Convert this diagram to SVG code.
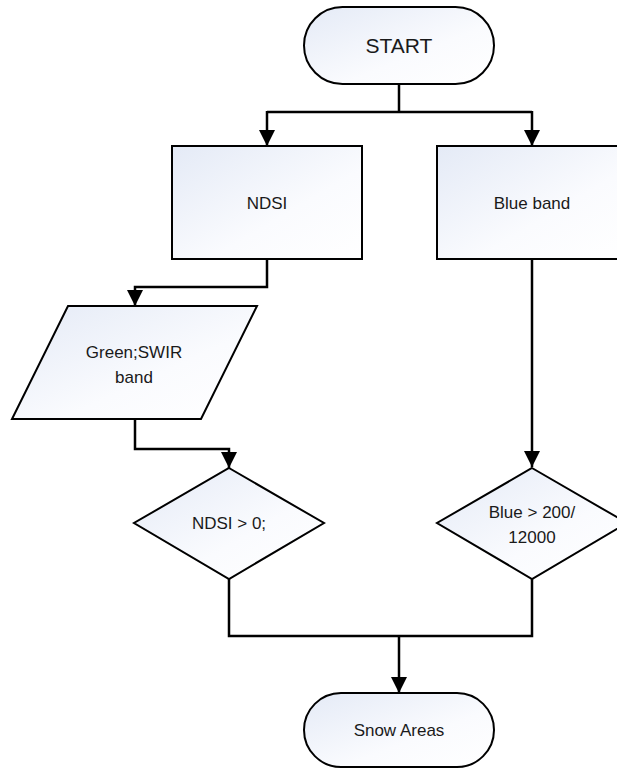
<svg xmlns="http://www.w3.org/2000/svg" width="617" height="769" viewBox="0 0 617 769">
<style>
.shape{stroke:#000;stroke-width:2;fill:url(#g)}
.conn{fill:none;stroke:#000;stroke-width:2.5}
text{font-family:"Liberation Sans",Arial,sans-serif;font-size:17px;fill:#1a1a1a;text-anchor:middle}
.big{font-size:21px}
</style>
<defs>
<linearGradient id="g" x1="0" y1="0" x2="1" y2="1">
<stop offset="0" stop-color="#e4eaf6"/>
<stop offset="0.6" stop-color="#fafbfe"/>
<stop offset="1" stop-color="#ffffff"/>
</linearGradient>
<marker id="arr" viewBox="0 0 16 16" refX="16" refY="8" markerWidth="16" markerHeight="16" markerUnits="userSpaceOnUse" orient="auto">
<path d="M0,0 L16,8 L0,16 Z" fill="#000"/>
</marker>
</defs>
<rect width="617" height="769" fill="#fff"/>
<g id="connectors">
<path class="conn" d="M399,84 V112"/>
<path class="conn" d="M267,112 H532"/>
<path class="conn" d="M267,111 V146" marker-end="url(#arr)"/>
<path class="conn" d="M532,111 V146" marker-end="url(#arr)"/>
<path class="conn" d="M267,259 V287 H135 V306" marker-end="url(#arr)"/>
<path class="conn" d="M135,419 V449 H229 V468" marker-end="url(#arr)"/>
<path class="conn" d="M532,259 V467" marker-end="url(#arr)"/>
<path class="conn" d="M229,579 V636 H532 V579"/>
<path class="conn" d="M399,636 V693" marker-end="url(#arr)"/>
</g>
<g id="start">
<rect class="shape" x="304" y="7" width="190" height="77" rx="38.5"/>
<text class="big" x="399" y="53">START</text>
</g>
<g id="ndsi">
<rect class="shape" x="172" y="146" width="190" height="113"/>
<text x="267" y="209">NDSI</text>
</g>
<g id="blueband">
<rect class="shape" x="437" y="146" width="190" height="113"/>
<text x="532" y="209">Blue band</text>
</g>
<g id="greenswir">
<polygon class="shape" points="68,306 257,306 201,419 12,419"/>
<text x="134" y="358">Green;SWIR</text>
<text x="134" y="383">band</text>
</g>
<g id="ndsicond">
<polygon class="shape" points="229,468 324,523 229,579 134,523"/>
<text x="229" y="529">NDSI &gt; 0;</text>
</g>
<g id="bluecond">
<polygon class="shape" points="532,468 627,523 532,579 437,523"/>
<text x="532" y="518">Blue &gt; 200/</text>
<text x="532" y="543">12000</text>
</g>
<g id="snow">
<rect class="shape" x="304" y="693" width="190" height="74" rx="37"/>
<text x="399" y="736">Snow Areas</text>
</g>
</svg>
